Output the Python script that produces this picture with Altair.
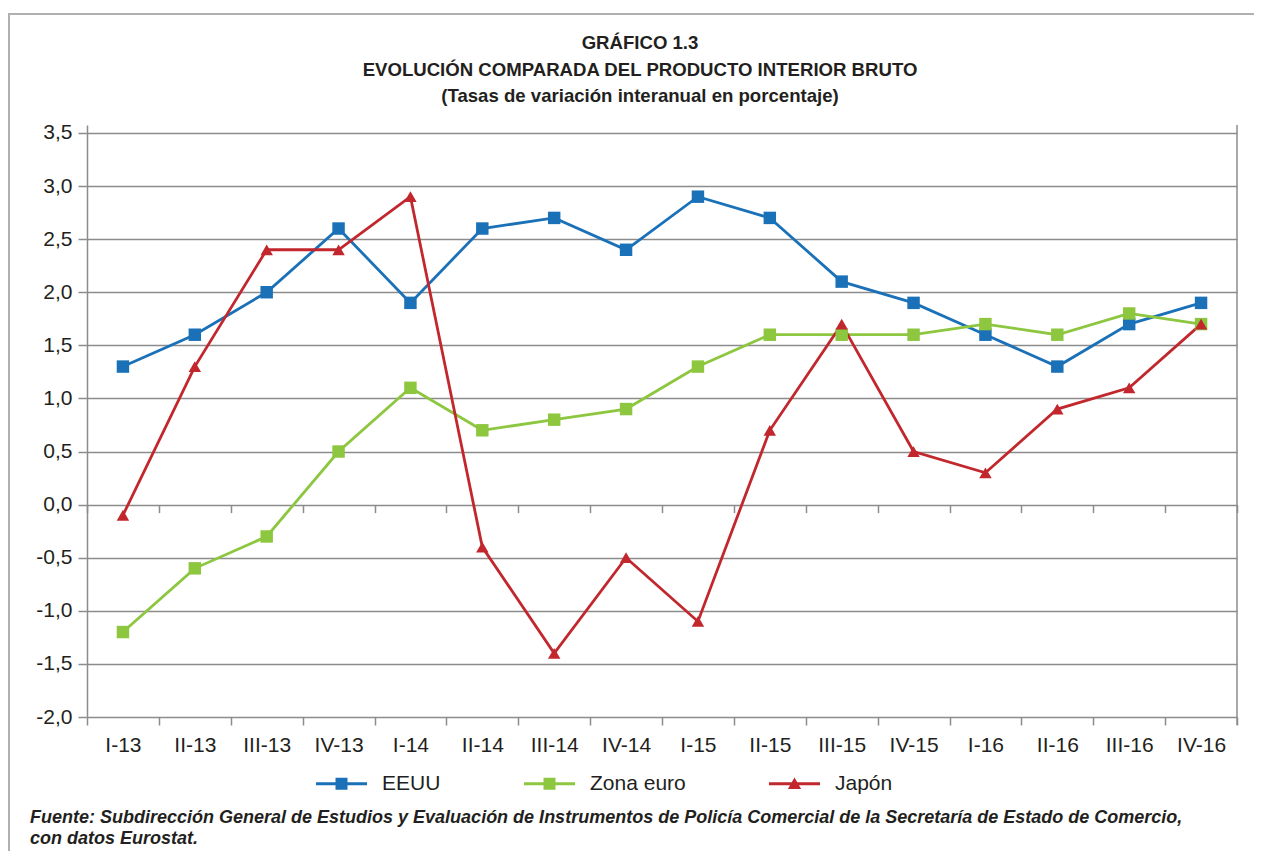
import altair as alt
import pandas as pd

periods = ["I-13", "II-13", "III-13", "IV-13", "I-14", "II-14", "III-14", "IV-14",
           "I-15", "II-15", "III-15", "IV-15", "I-16", "II-16", "III-16", "IV-16"]
eeuu = [1.3, 1.6, 2.0, 2.6, 1.9, 2.6, 2.7, 2.4, 2.9, 2.7, 2.1, 1.9, 1.6, 1.3, 1.7, 1.9]
zona_euro = [-1.2, -0.6, -0.3, 0.5, 1.1, 0.7, 0.8, 0.9, 1.3, 1.6, 1.6, 1.6, 1.7, 1.6, 1.8, 1.7]
japon = [-0.1, 1.3, 2.4, 2.4, 2.9, -0.4, -1.4, -0.5, -1.1, 0.7, 1.7, 0.5, 0.3, 0.9, 1.1, 1.7]
series = ["EEUU", "Zona euro", "Japón"]
colors = ["#1a71b8", "#8dc63f", "#c1272d"]
y_ticks = [-2.0, -1.5, -1.0, -0.5, 0.0, 0.5, 1.0, 1.5, 2.0, 2.5, 3.0, 3.5]
title_lines = ["GRÁFICO 1.3",
               "EVOLUCIÓN COMPARADA DEL PRODUCTO INTERIOR BRUTO",
               "(Tasas de variación interanual en porcentaje)"]
footer_lines = ["Fuente: Subdirección General de Estudios y Evaluación de Instrumentos de Policía "
                "Comercial de la Secretaría de Estado de Comercio,",
                "con datos Eurostat."]

rows = []
for s, vals in zip(series, [eeuu, zona_euro, japon]):
    for p, v in zip(periods, vals):
        rows.append({"periodo": p, "serie": s, "leg": s, "valor": v})
df = pd.DataFrame(rows)
one = pd.DataFrame({"t": ["\n".join(footer_lines)], "ti": ["\n".join(title_lines)]})

W, H = 1150, 592
FONT = "Liberation Sans"
TXT = "#231f20"
GRID = "#8c8c8c"
Y_TOP = 3.575
ZERO_OFF = -(H - H * Y_TOP / (Y_TOP + 2.0))
LAB = 21

xscale = alt.Scale(type="band", domain=periods, paddingInner=0, paddingOuter=0)
yscale = alt.Scale(domain=[-2.0, Y_TOP], nice=False, zero=False)

x_bottom = alt.X("periodo:O", scale=xscale, sort=periods,
                 axis=alt.Axis(title=None, orient="bottom", tickBand="extent", labelAngle=0,
                               labelFontSize=LAB, labelFont=FONT, labelColor=TXT,
                               tickSize=8, tickColor=GRID, tickWidth=1.5, domain=False,
                               labelPadding=9, grid=False))
x_zero = alt.X("periodo:O", scale=xscale, sort=periods,
               axis=alt.Axis(title=None, orient="bottom", offset=ZERO_OFF, tickBand="extent",
                             labels=False, tickSize=8, tickColor=GRID, tickWidth=1.5,
                             domain=False, grid=False))
x_none = alt.X("periodo:O", scale=xscale, sort=periods, axis=None)

y_enc = alt.Y("valor:Q", scale=yscale,
              axis=alt.Axis(title=None, values=y_ticks,
                            labelExpr="(datum.value < 0 ? '-' : '') + replace(format(abs(datum.value), '.1f'), '.', ',')",
                            grid=True, gridColor=GRID, gridWidth=1.5,
                            domainColor=GRID, domainWidth=1.5,
                            tickColor=GRID, tickWidth=1.5, tickSize=9, labelPadding=6,
                            labelFontSize=LAB, labelFont=FONT, labelColor=TXT))

cscale = alt.Scale(domain=series, range=colors)

lines = alt.Chart(df).mark_line(strokeWidth=2.8).encode(
    x=x_bottom, y=y_enc,
    color=alt.Color("serie:N", scale=cscale, legend=None),
)
points = alt.Chart(df).mark_point(filled=True, opacity=1, size=155).encode(
    x=x_zero, y=y_enc,
    color=alt.Color("serie:N", scale=cscale, legend=None),
    shape=alt.Shape("serie:N", scale=alt.Scale(domain=series, range=["square", "square", "triangle-up"]),
                    legend=None),
)

sq_path = "M-1,-0.055H1V0.055H-1Z M-0.235,-0.235H0.235V0.235H-0.235Z"
tri_path = "M-1,-0.055H1V0.055H-1Z M-0.26,0.21L0,-0.25L0.26,0.21Z"
leg = alt.Legend(title=None, orient="none", legendX=229, legendY=633, direction="horizontal",
                 symbolSize=2601, labelFontSize=LAB, labelFont=FONT, labelColor=TXT,
                 labelOffset=15, columnPadding=83, symbolStrokeWidth=0, symbolOpacity=1)
legend_layer = alt.Chart(df).mark_point(filled=True, opacity=0, size=2601).encode(
    x=x_none, y=y_enc,
    color=alt.Color("leg:N", scale=alt.Scale(domain=series, range=colors), legend=leg),
    shape=alt.Shape("leg:N", scale=alt.Scale(domain=series, range=[sq_path, sq_path, tri_path]),
                    legend=leg),
)

right_border = alt.Chart(one).mark_rule(color=GRID, strokeWidth=1.5).encode(
    x=alt.value(W), y=alt.value(0), y2=alt.value(H + 8))
frame_left = alt.Chart(one).mark_rule(color="#b0b0b0", strokeWidth=2).encode(
    x=alt.value(-78), y=alt.value(-111), y2=alt.value(H + 140))
frame_top = alt.Chart(one).mark_rule(color="#b0b0b0", strokeWidth=2).encode(
    x=alt.value(-79), x2=alt.value(W + 30), y=alt.value(-111))
title_txt = alt.Chart(one).mark_text(align="center", baseline="alphabetic", font=FONT, fontSize=18.6,
                                     fontWeight="bold", color=TXT,
                                     lineBreak="\n", lineHeight=26.5).encode(
    x=alt.value(553), y=alt.value(49 - 125), text="ti:N")
foot = alt.Chart(one).mark_text(align="left", baseline="alphabetic", font=FONT, fontSize=18,
                                fontStyle="italic", fontWeight="bold", color=TXT,
                                lineBreak="\n", lineHeight=21).encode(
    x=alt.value(-57), y=alt.value(823 - 125), text="t:N")

chart = alt.layer(frame_left, frame_top, right_border, lines, points, legend_layer,
                  title_txt, foot).resolve_scale(
    color="independent", shape="independent"
).resolve_axis(x="independent").properties(
    width=W, height=H,
    autosize=alt.AutoSizeParams(type="none"),
    padding={"left": 79, "top": 117, "right": 17, "bottom": 134},
).configure_view(stroke="transparent")

chart.save("out.html", embed_options={"renderer": "svg", "actions": False})
